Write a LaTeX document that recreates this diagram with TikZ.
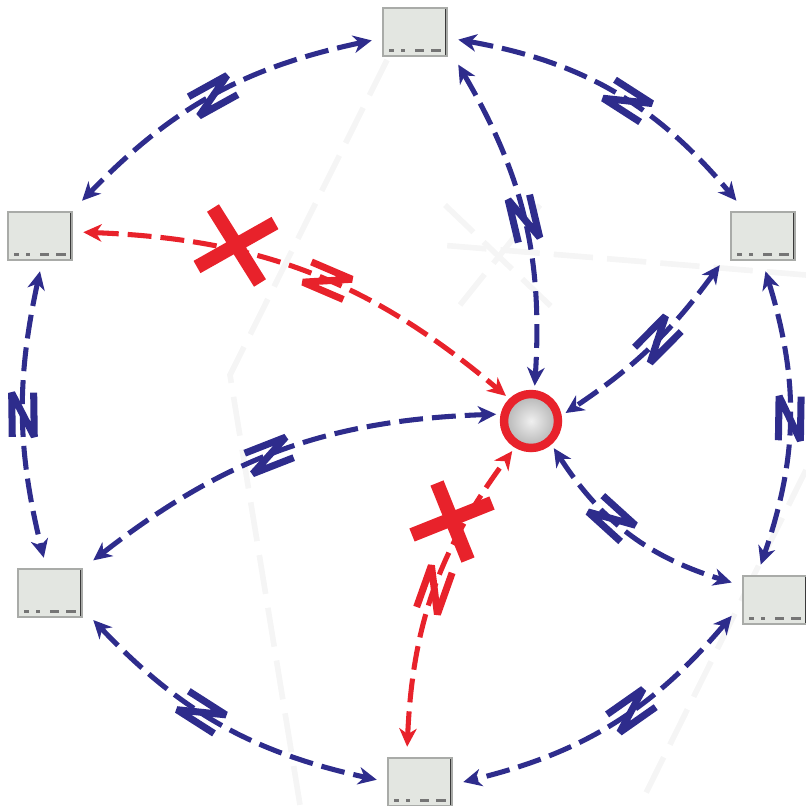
\documentclass[tikz,border=0pt]{standalone}
\usepackage{tikz}
\usetikzlibrary{arrows.meta,decorations.markings}

\begin{document}
\begin{tikzpicture}[x=0.0125cm,y=0.0125cm,
  devicebox/.style={draw=boxEdge,line width=0.4pt,fill=boxFill,minimum width=0.8cm,minimum height=0.6cm,inner sep=0pt,outer sep=4pt,
    path picture={
      \draw[boxDark,line width=1.3pt] (path picture bounding box.north east) -- (path picture bounding box.south east);
      \foreach \m/\w in {6/5,18/4,32/9,48/10} {
        \fill[boxDark!70] ([shift={(\m,4)}]path picture bounding box.south west) rectangle ++(\w,3);
      }
    }},
  hub/.style={circle,draw=linkRed,line width=3pt,minimum size=0.675cm,inner sep=0pt,outer sep=3pt,inner color=gray!12,outer color=gray!60},
  link/.style={line width=1.8pt,dash pattern=on 8.5pt off 3.2pt,<->,>={Stealth[length=6.5pt,width=6.2pt,inset=2pt]}},
  bluelink/.style={link,draw=linkBlue},
  redlink/.style={link,draw=linkRed},
  zapat/.style={postaction={decorate,decoration={markings,mark=at position #1 with {
    \draw[solid,-,line width=2.5pt,line cap=butt,line join=bevel] (-22,11) -- (22,11) -- (-22,-11) -- (22,-11);}}}},
  ghost/.style={draw=black!4,line width=2pt,dash pattern=on 14pt off 5pt}]
\definecolor{linkBlue}{HTML}{2E2C8C}
\definecolor{linkRed}{HTML}{E8222B}
\definecolor{boxFill}{HTML}{E3E6E1}
\definecolor{boxEdge}{HTML}{A9ABA8}
\definecolor{boxDark}{HTML}{3A3A3A}
\useasboundingbox (0,0) rectangle (806,805);
\draw[ghost] (387,745) -- (230,430) -- (300,0);
\draw[ghost] (806,335) -- (640,0);
\draw[ghost] (806,530) -- (440,560);
\draw[ghost] (445,600) -- (560,490);
\draw[ghost] (460,500) -- (540,600);
\foreach \name/\x/\y in {top/415/773,ul/40/569,ur/763/569,ll/50/212,lr/775/205,bot/420/23} {
  \node[devicebox] (\name) at (\x,\y) {};
}
\node[hub] (hub) at (531,384) {};
\foreach \src/\dst/\bend/\p in {top.191/ul.40/-17/0.5,top.-10/ur.127/20/0.55,ur.-86/lr.112/18/0.5,ul.-90/ll.100/-13/0.5,
  ll.-32/bot.177/-17/0.43,lr.200/bot.0/18/0.43,top.-37/hub.84/17/0.5,ur.214/hub.13/10/0.45,hub.-50/lr.158/-20/0.4,ll.37/hub.169/18/0.47} {
  \draw[bluelink,zapat=\p] (\src) to[bend left=\bend] (\dst);
}
\foreach \src/\dst/\bend/\p in {ul.5/hub.135/19/0.54,bot.110/hub.238/17/0.5} {
  \draw[redlink,zapat=\p] (\src) to[bend left=\bend] (\dst);
}
\foreach \ax/\ay/\bx/\by/\cx/\cy/\dx/\dy in {213/597/260/522/197/538/275/582,437/322/468/245/412/270/492/302} {
  \draw[linkRed,line width=5pt] (\ax,\ay) -- (\bx,\by) (\cx,\cy) -- (\dx,\dy);
}
\end{tikzpicture}
\end{document}
